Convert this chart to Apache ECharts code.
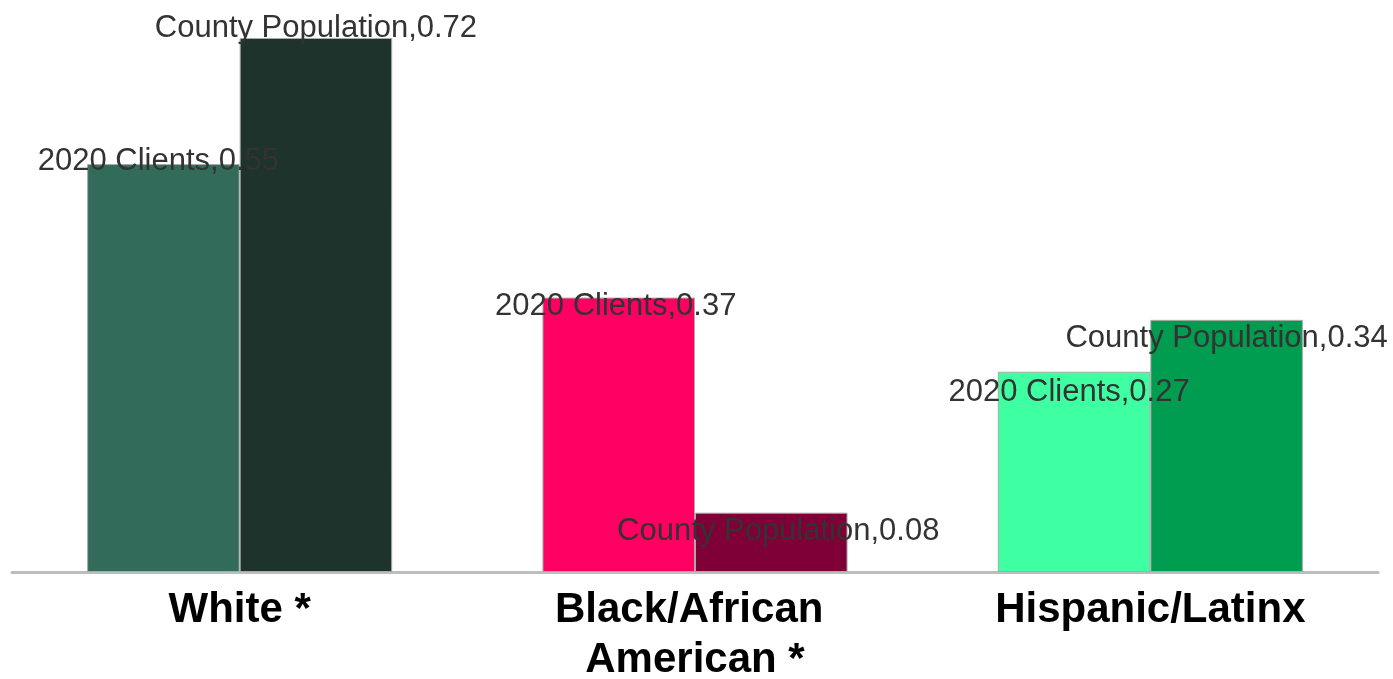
<!DOCTYPE html>
<html>
<head>
<meta charset="utf-8">
<script src="https://cdn.jsdelivr.net/npm/echarts@6/dist/echarts.min.js"></script>
<style>html,body{margin:0;padding:0;background:#fff}#c{width:1393px;height:679px}</style>
</head>
<body>
<div id="c"></div>
<script>
const categories = ["White *", "Black/African American *", "Hispanic/Latinx"];
const seriesNames = ["2020 Clients", "County Population"];
const clients2020 = [0.55, 0.37, 0.27];
const countyPopulation = [0.72, 0.08, 0.34];

// styling (not data)
const clientColors = ["#336b5a", "#ff0062", "#3effa2"];
const countyColors = ["#1d332c", "#7f0036", "#009c50"];
const clientLabelOffsets = [[-5, -3], [-3, 9], [-5, 21]];
const countyLabelOffsets = [[0, -10], [7, 19], [0, 19]];

function buildData(values, colors, offsets) {
  return values.map((v, i) => ({
    value: v,
    itemStyle: { color: colors[i] },
    label: { offset: offsets[i] }
  }));
}

const labelBase = {
  show: true,
  position: ['50%', 0],
  align: 'center',
  verticalAlign: 'middle',
  formatter: '{a},{c}',
  color: '#333',
  fontFamily: 'Liberation Sans, Arial, sans-serif',
  fontSize: 31
};

const chart = echarts.init(document.getElementById('c'));
chart.setOption({
  animation: false,
  grid: { left: 12, right: 15, top: 38, bottom: 107, containLabel: false, outerBoundsMode: 'none' },
  xAxis: {
    type: 'category',
    data: categories,
    axisLine: { lineStyle: { color: '#bdbdbd', width: 3 } },
    axisTick: { show: false },
    axisLabel: {
      color: '#000',
      fontWeight: 'bold',
      fontFamily: 'Liberation Sans, Arial, sans-serif',
      fontSize: 42,
      lineHeight: 50,
      margin: 13,
      width: 340,
      overflow: 'break',
      interval: 0
    }
  },
  yAxis: {
    type: 'value',
    min: 0,
    max: 0.72,
    show: false,
    splitLine: { show: false }
  },
  series: [
    {
      name: seriesNames[0],
      type: 'bar',
      barGap: '0%',
      barCategoryGap: '33%',
      itemStyle: { borderColor: '#aaa', borderWidth: 1 },
      label: labelBase,
      data: buildData(clients2020, clientColors, clientLabelOffsets)
    },
    {
      name: seriesNames[1],
      type: 'bar',
      barGap: '0%',
      barCategoryGap: '33%',
      itemStyle: { borderColor: '#aaa', borderWidth: 1 },
      label: labelBase,
      data: buildData(countyPopulation, countyColors, countyLabelOffsets)
    }
  ]
});
</script>
</body>
</html>
